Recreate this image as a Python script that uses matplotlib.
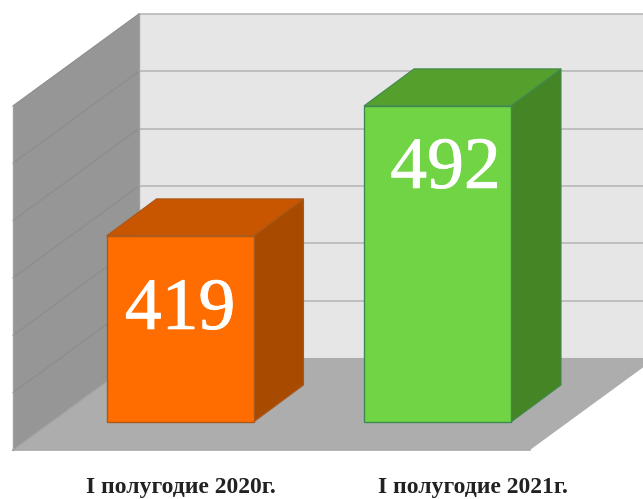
import matplotlib
matplotlib.use("Agg")
import matplotlib.pyplot as plt
import matplotlib.patheffects as pe

categories = ["I полугодие 2020г.", "I полугодие 2021г."]
values = [419, 492]
front_colors = ["#FF6D00", "#70D444"]
top_colors = ["#C85500", "#55A02D"]
side_colors = ["#A84A00", "#468526"]
edge_colors = ["#A8591C", "#3E8A50"]

W, H = 643, 499
PX_X = 257.5          # pixels per category step
PX_Y = 1.781          # pixels per value unit
BAR_BASE = 314.5      # value at the bar foot
FLOOR = 298.8         # value at the front edge of the floor
GRID_STEP = 32.2
N_GRID = 6
ROOM_DX, ROOM_DY = 126 / PX_X, 92 / PX_Y      # room depth
BAR_DX, BAR_DY = 50 / PX_X, 37 / PX_Y         # bar depth
BAR_W = 147 / PX_X
LEFT = -167 / PX_X    # left front corner of the room
FRONT_R = 350 / PX_X  # right front corner of the floor
LABEL_DX = [0 / PX_X, 8 / PX_X]               # value label offsets
LABEL_DY = [93 / PX_Y, 82 / PX_Y]             # baseline below bar top
CAT_X = [181, 473]                            # category label centres, px

fig = plt.figure(figsize=(W / 100, H / 100), dpi=100, facecolor="white")
ax = fig.add_axes([0, 0, 1, 1])
ax.set_xlim(-180 / PX_X, (W - 180) / PX_X)
ax.set_ylim(BAR_BASE - (H - 422) / PX_Y, BAR_BASE + 422 / PX_Y)
ax.axis("off")

top = FLOOR + GRID_STEP * N_GRID
xmax = ax.get_xlim()[1]
bx, by = LEFT + ROOM_DX, FLOOR + ROOM_DY

# back wall
ax.fill([bx, xmax, xmax, bx], [by, by, top + ROOM_DY, top + ROOM_DY],
        color="#E6E6E6", lw=0, zorder=1)
# left wall
ax.fill([LEFT, bx, bx, LEFT], [FLOOR, by, top + ROOM_DY, top],
        color="#969696", lw=0, zorder=1)
# floor
slope = ROOM_DY / ROOM_DX
ax.fill([LEFT, FRONT_R, xmax, xmax, bx],
        [FLOOR, FLOOR, FLOOR + (xmax - FRONT_R) * slope, by, by],
        color="#ADADAD", lw=0, zorder=2)
ax.plot([LEFT, FRONT_R], [FLOOR, FLOOR], color="#A8A8A8", lw=1.2, zorder=2)
ax.plot([LEFT, bx], [FLOOR, by], color="#A2A2A2", lw=1, zorder=2)

# grid lines
for i in range(1, N_GRID + 1):
    g = FLOOR + GRID_STEP * i
    ax.plot([bx, xmax], [g + ROOM_DY, g + ROOM_DY], color="#B8B8B8", lw=1.2, zorder=1.5)
    ax.plot([LEFT, bx], [g, g + ROOM_DY], color="#8C8C8C", lw=0.8, zorder=1.5)
ax.plot([LEFT, LEFT], [FLOOR, top], color="#A0A0A0", lw=1, zorder=1.5)
ax.plot([bx, bx], [by, top + ROOM_DY], color="#A0A0A0", lw=1, zorder=1.5)

# bars
for i, v in enumerate(values):
    x0, x1 = i - BAR_W / 2, i + BAR_W / 2
    ec = edge_colors[i]
    ax.bar(i, v - BAR_BASE, width=BAR_W, bottom=BAR_BASE, color=front_colors[i],
           edgecolor=ec, lw=1, zorder=5)
    ax.fill([x1, x1 + BAR_DX, x1 + BAR_DX, x1],
            [BAR_BASE, BAR_BASE + BAR_DY, v + BAR_DY, v],
            facecolor=side_colors[i], edgecolor=ec, lw=0.8, zorder=4)
    ax.fill([x0, x1, x1 + BAR_DX, x0 + BAR_DX],
            [v, v, v + BAR_DY, v + BAR_DY],
            facecolor=top_colors[i], edgecolor=ec, lw=0.8, zorder=4)
    ax.text(i + LABEL_DX[i], v - LABEL_DY[i], str(v), color="white", ha="center",
            va="baseline", family="Liberation Serif", fontsize=53, zorder=6,
            path_effects=[pe.withStroke(linewidth=0.6, foreground="white")])
    ax.text((CAT_X[i] - 180) / PX_X, BAR_BASE - 71 / PX_Y, categories[i],
            color="#222222", ha="center", va="baseline",
            family="Liberation Serif", weight="bold", fontsize=17, zorder=6)

fig.savefig("out.png", dpi=100, facecolor="white")
